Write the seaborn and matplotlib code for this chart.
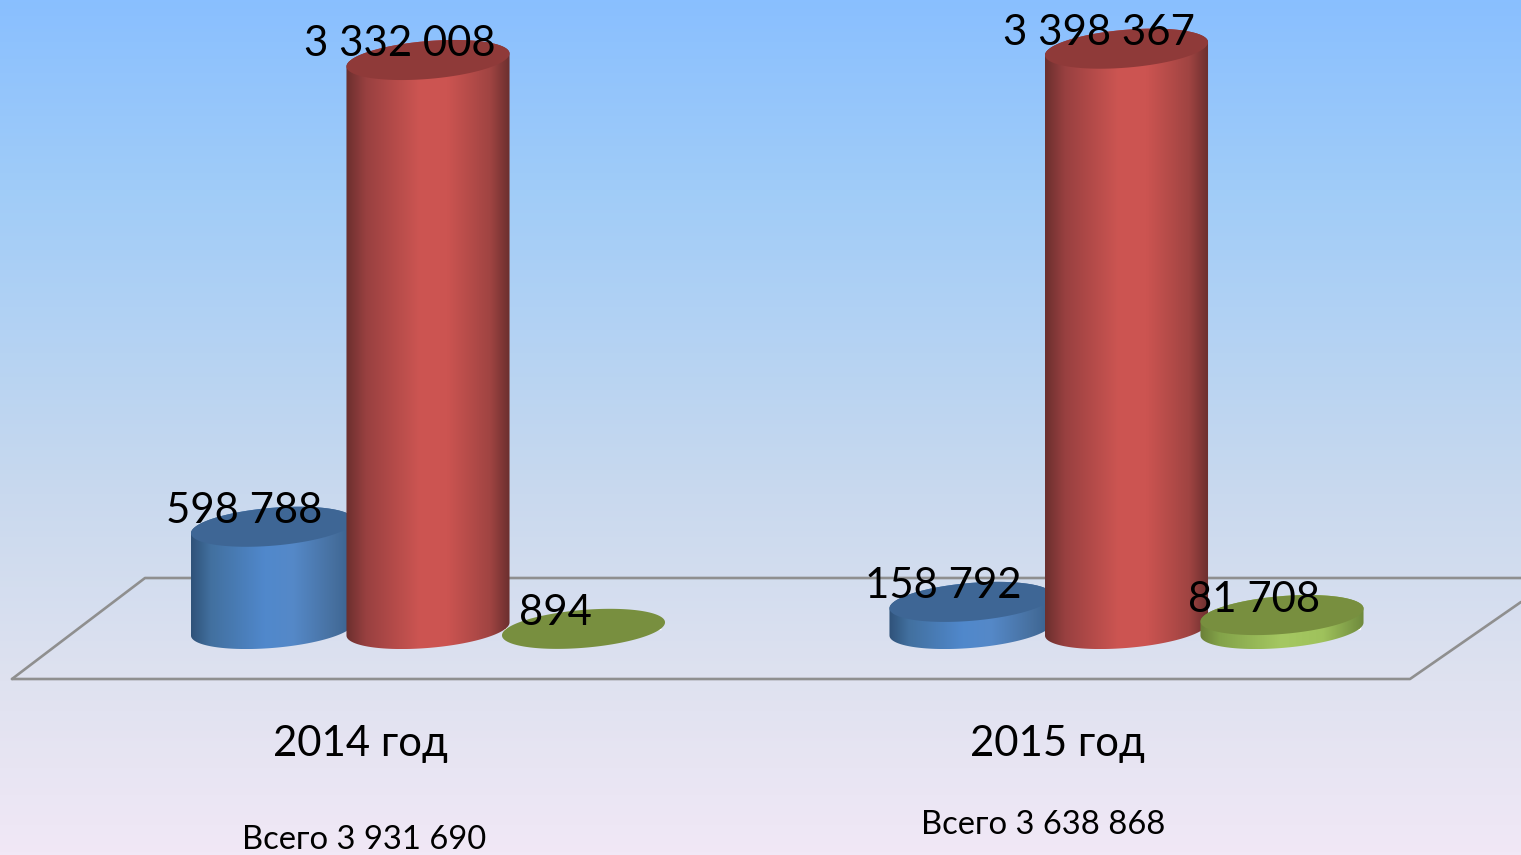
import numpy as np
import pandas as pd
import matplotlib
matplotlib.use("Agg")
import matplotlib.pyplot as plt
from matplotlib.colors import LinearSegmentedColormap
from matplotlib.patches import Polygon
import seaborn as sns

years = ["2014 год", "2015 год"]
series_names = ["Синий", "Красный", "Зелёный"]
blue_values = [598788, 158792]
red_values = [3332008, 3398367]
green_values = [894, 81708]
totals = [3931690, 3638868]

W, H = 1521, 855
BASE_PX, PX_PER_UNIT = 629, 569 / 3332008
X0_PX, CAT_PX = 428, 698.5
BAR_PX = 155.5
A, B, THETA = 81.8, 18.9, np.radians(4.8)

sns.set_theme(style="white")
plt.rcParams["font.family"] = ["Lato", "Open Sans", "DejaVu Sans"]

df = pd.DataFrame({
    "year": years * 3,
    "series": np.repeat(series_names, 2),
    "value": blue_values + red_values + green_values,
})
styles = {
    "Синий": dict(base="#4f81bd", top="#3e6695", z=3,
                  stops=[(0, "#2f5279"), (.12, "#42709f"), (.45, "#5088cc"), (.62, "#5589c8"), (.88, "#466f9e"), (1, "#38608d")]),
    "Красный": dict(base="#c0504d", top="#8f3a39", z=5,
                    stops=[(0, "#6b2f2e"), (.12, "#984040"), (.45, "#cd5552"), (.62, "#cc5451"), (.88, "#a04442"), (1, "#6b2f2e")]),
    "Зелёный": dict(base="#9bbb59", top="#788f3f", z=7,
                    stops=[(0, "#6b8038"), (.12, "#83a349"), (.5, "#a5c862"), (.75, "#9fc25c"), (1, "#6f8a3d")]),
}

fig = plt.figure(figsize=(W / 100, H / 100), dpi=100)
ax = fig.add_axes([0, 0, 1, 1])
sns.barplot(data=df, x="year", y="value", hue="series", order=years, hue_order=series_names,
            palette={k: v["base"] for k, v in styles.items()},
            width=3 * BAR_PX / CAT_PX, gap=0, dodge=True, legend=False, ax=ax, saturation=1, errorbar=None)
xlim = (-X0_PX / CAT_PX, (W - X0_PX) / CAT_PX)
ylim = (-(H - BASE_PX) / PX_PER_UNIT, BASE_PX / PX_PER_UNIT)

# backdrop
bg = LinearSegmentedColormap.from_list("bg", [(0, "#89bfff"), (.22, "#a0ccf8"), (.58, "#c9d9ee"), (.8, "#dfe2f0"), (1, "#f1e8f6")])
ax.imshow(np.linspace(0, 1, 256)[:, None], cmap=bg, extent=(0, 1, 0, 1), transform=ax.transAxes,
          aspect="auto", zorder=0, origin="upper")
ax.set_xlim(*xlim)
ax.set_ylim(*ylim)
ax.axis("off")

# floor
floor = [(12, 679), (145, 578), (1521, 578), (1521, 602), (1410, 679)]
fx = [p[0] / W for p in floor]
fy = [1 - p[1] / H for p in floor]
ax.plot(fx[:3], fy[:3], transform=ax.transAxes, color="#8f8f8f", lw=1.9, zorder=1)
ax.plot([fx[0], fx[4], fx[3]], [fy[0], fy[4], fy[3]], transform=ax.transAxes, color="#8f8f8f", lw=1.9, zorder=1)

to_disp = ax.transData.transform
to_data = ax.transData.inverted().transform


def ellipse(cx, cy, t):
    return np.c_[cx + A * np.cos(t) * np.cos(THETA) - B * np.sin(t) * np.sin(THETA),
                 cy + A * np.cos(t) * np.sin(THETA) + B * np.sin(t) * np.cos(THETA)]


t0 = np.arctan2(-B * np.sin(THETA), A * np.cos(THETA))
for name, cont in zip(series_names, ax.containers):
    st = styles[name]
    z = st["z"]
    cmap = LinearSegmentedColormap.from_list(name, st["stops"])
    for bar in cont:
        bar.set_zorder(2)
        cx = bar.get_x() + bar.get_width() / 2
        (px, py_base) = to_disp((cx, 0))
        (_, py_top) = to_disp((cx, bar.get_height()))
        lower = ellipse(px, py_base, np.linspace(t0 + np.pi, t0 + 2 * np.pi, 80))
        upper = ellipse(px, py_top, np.linspace(t0, t0 + np.pi, 80))
        hull = to_data(np.r_[lower, upper])
        xmin, xmax = hull[:, 0].min(), hull[:, 0].max()
        if py_top - py_base > 1:
            im = ax.imshow(np.linspace(0, 1, 256)[None, :], cmap=cmap,
                           extent=(xmin, xmax, hull[:, 1].min(), hull[:, 1].max()),
                           aspect="auto", zorder=z, interpolation="bilinear")
            clip = Polygon(hull, closed=True, transform=ax.transData, fc="none", ec="none")
            ax.add_patch(clip)
            im.set_clip_path(clip)
        cap = to_data(ellipse(px, py_top, np.linspace(0, 2 * np.pi, 160)))
        ax.add_patch(Polygon(cap, closed=True, fc=st["top"], ec="none", zorder=z + 0.5))
        ax.annotate(f"{int(bar.get_height()):,}".replace(",", " "), (cx, bar.get_height()),
                    xytext=(-28, 15.5), textcoords="offset pixels", ha="center", va="center",
                    fontsize=30.2, color="black", zorder=10)
ax.set_xlim(*xlim)
ax.set_ylim(*ylim)

for i, (yr, tot) in enumerate(zip(years, totals)):
    ax.annotate(yr, (i, 0), xytext=((-67, -69)[i], -114.5), textcoords="offset pixels",
                ha="center", va="center", fontsize=30.2, color="black", zorder=10)
    ax.annotate("Всего " + f"{tot:,}".replace(",", " "), (i, 0), xytext=((-64, -83)[i], (-211, -196)[i]),
                textcoords="offset pixels", ha="center", va="center", fontsize=23.6, color="black", zorder=10)

fig.savefig("out.png", dpi=100)
